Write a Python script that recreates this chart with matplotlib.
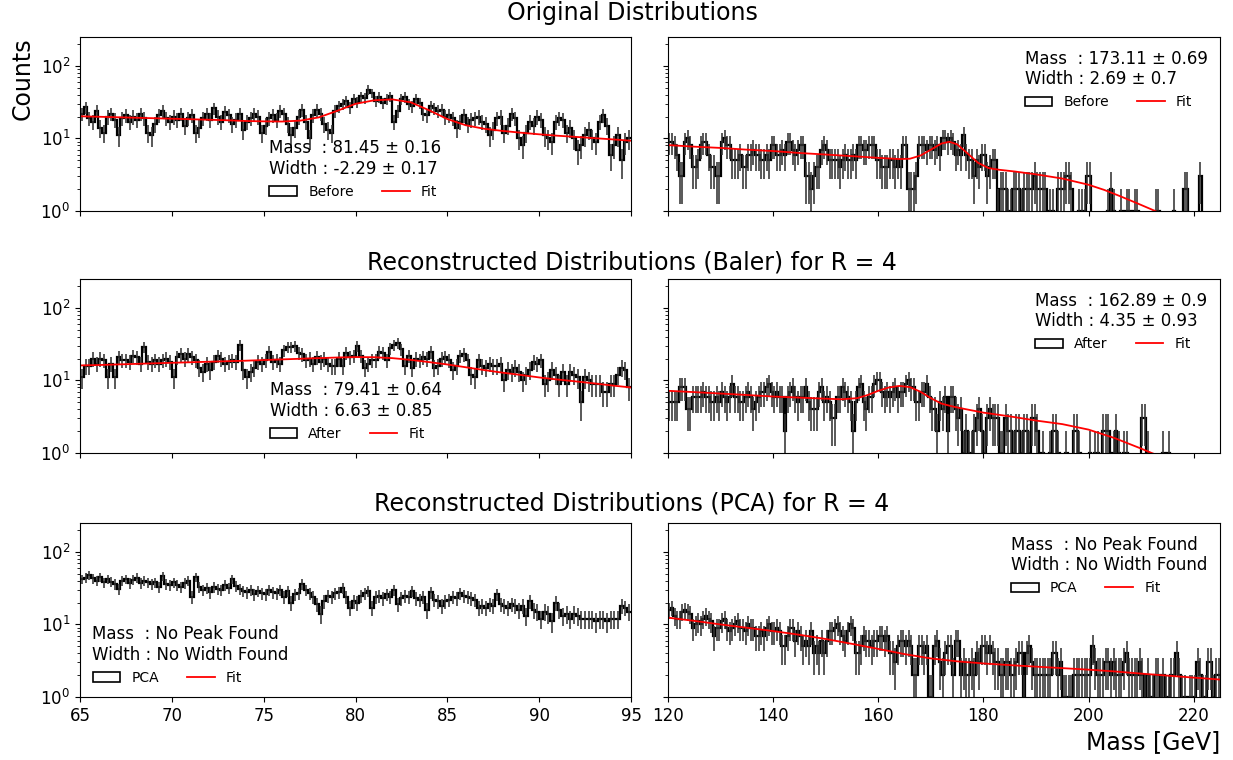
import numpy as np
import matplotlib
matplotlib.use("Agg")
import matplotlib.pyplot as plt
from matplotlib.patches import Patch
from matplotlib.lines import Line2D

# bin edges: W window 65-95 (0.2 GeV), top window 120-225 (0.5 GeV)
low_edges = np.linspace(65, 95, 151)
high_edges = np.linspace(120, 225, 211)

# ---- original ("Before") ----
orig_low = [22, 27, 19, 17, 24, 14, 12, 20, 22, 18, 11, 19, 21, 17, 20,
            18, 22, 19, 12, 11, 16, 21, 24, 19, 17, 20, 18, 22, 15, 19,
            21, 12, 14, 19, 22, 18, 26, 20, 17, 23, 21, 16, 18, 22, 13,
            17, 19, 22, 20, 12, 15, 19, 21, 18, 24, 22, 16, 11, 14, 20,
            25, 17, 10, 21, 25, 22, 16, 13, 12, 24, 28, 30, 33, 27, 35,
            32, 38, 36, 47, 42, 33, 37, 31, 35, 38, 17, 24, 35, 37, 30,
            28, 35, 31, 22, 21, 28, 26, 24, 25, 20, 21, 19, 14, 17, 21,
            16, 18, 19, 20, 17, 16, 11, 13, 19, 20, 12, 15, 22, 19, 10,
            8, 12, 17, 15, 20, 18, 11, 10, 9, 17, 19, 18, 12, 14, 10,
            7, 8, 11, 13, 10, 9, 17, 21, 15, 6, 8, 11, 5, 9, 10]
orig_high = [9, 9, 8, 6, 3, 3, 9, 10, 8, 4, 4, 5, 8, 9, 9, 6, 4, 4, 3, 3,
             9, 10, 8, 8, 5, 5, 5, 6, 4, 4, 6, 6, 7, 6, 6, 5, 5, 6, 5, 8,
             8, 6, 6, 7, 6, 9, 9, 7, 6, 7, 8, 8, 3, 3, 2, 3, 4, 4, 7, 8,
             7, 5, 5, 5, 5, 4, 5, 6, 5, 5, 6, 5, 8, 8, 7, 7, 8, 8, 8, 5,
             5, 4, 4, 4, 5, 5, 4, 5, 4, 8, 8, 2, 2, 2, 3, 8, 8, 8, 7, 8,
             8, 7, 8, 6, 10, 10, 9, 10, 9, 6, 7, 6, 11, 6, 5, 5, 3, 5, 4, 6,
             6, 3, 4, 5, 5, 1, 2, 2, 2, 1, 1, 2, 2, 2, 1, 2, 2, 2, 2, 3,
             2, 2, 2, 2, 0, 1, 1, 0, 2, 2, 2, 3, 3, 2, 0, 0, 1, 1, 1, 3,
             3, 0, 0, 0, 0, 0, 0, 1, 2, 1, 0, 0, 1, 0, 1, 1, 0, 1, 1, 0,
             0, 0, 0, 0, 0, 1, 1, 0, 0, 0, 0, 0, 1, 0, 0, 0, 2, 2, 0, 0,
             0, 0, 3, 0, 0, 0, 0, 0, 0, 0]

# ---- Baler reconstruction ("After") ----
baler_low = [11, 16, 16, 20, 17, 20, 19, 11, 17, 11, 21, 19, 19, 18, 22,
             21, 17, 29, 18, 17, 19, 17, 19, 20, 18, 11, 21, 23, 20, 23,
             21, 19, 15, 13, 17, 14, 18, 22, 20, 17, 18, 19, 18, 31, 14,
             11, 13, 15, 18, 17, 19, 25, 18, 19, 17, 26, 29, 29, 30, 24,
             23, 19, 20, 17, 21, 18, 20, 17, 16, 16, 20, 16, 24, 21, 22,
             30, 22, 15, 17, 19, 19, 25, 24, 19, 28, 31, 33, 27, 16, 22,
             15, 20, 19, 21, 20, 25, 15, 16, 20, 21, 19, 14, 16, 22, 23,
             19, 12, 11, 19, 16, 15, 17, 16, 16, 17, 10, 14, 13, 15, 13,
             10, 12, 14, 18, 17, 19, 9, 10, 14, 12, 9, 13, 9, 13, 12,
             11, 5, 11, 10, 9, 9, 9, 7, 7, 9, 9, 12, 15, 14, 8]
baler_high = [5, 5, 5, 5, 8, 8, 8, 4, 4, 6, 6, 6, 6, 7, 6, 6, 5, 5, 6, 5,
              7, 6, 5, 6, 9, 6, 6, 5, 5, 6, 7, 6, 4, 5, 6, 7, 7, 8, 9, 7,
              6, 7, 6, 6, 2, 6, 7, 8, 6, 5, 6, 6, 8, 5, 4, 4, 4, 7, 8, 5,
              6, 5, 3, 3, 6, 6, 8, 7, 6, 5, 2, 5, 8, 9, 5, 4, 6, 6, 9, 10,
              10, 7, 6, 7, 6, 7, 8, 6, 7, 7, 9, 10, 8, 8, 5, 5, 7, 7, 9, 6,
              4, 4, 2, 5, 4, 6, 2, 6, 6, 4, 3, 4, 1, 2, 1, 1, 2, 3, 4, 2,
              1, 3, 4, 3, 3, 3, 1, 1, 3, 2, 2, 1, 2, 2, 1, 2, 2, 1, 3, 3,
              2, 0, 1, 0, 0, 1, 2, 2, 1, 0, 0, 1, 0, 0, 2, 2, 1, 0, 0, 0,
              1, 0, 1, 1, 0, 2, 2, 2, 0, 1, 2, 1, 0, 1, 1, 0, 0, 0, 0, 0,
              3, 3, 1, 0, 0, 0, 0, 0, 1, 0, 1, 0, 0, 0, 0, 0, 0, 0, 0, 0,
              0, 0, 0, 0, 0, 0, 0, 0, 0, 0]

# ---- PCA reconstruction ----
pca_low = [42, 44, 48, 43, 40, 45, 38, 42, 39, 36, 31, 40, 42, 37, 41,
           44, 37, 40, 38, 36, 38, 33, 46, 36, 35, 38, 35, 33, 37, 40,
           24, 45, 33, 30, 32, 28, 33, 31, 30, 35, 32, 42, 34, 31, 29,
           28, 30, 26, 29, 27, 26, 30, 28, 27, 30, 24, 29, 20, 26, 27,
           36, 30, 27, 24, 19, 14, 21, 25, 24, 27, 28, 32, 24, 17, 21,
           20, 25, 27, 29, 17, 24, 25, 23, 26, 24, 30, 19, 23, 25, 24,
           29, 23, 22, 24, 16, 28, 22, 21, 18, 21, 22, 24, 23, 27, 25,
           24, 23, 22, 17, 18, 17, 19, 18, 26, 19, 18, 17, 19, 18, 16,
           18, 13, 21, 16, 15, 12, 15, 14, 11, 20, 16, 13, 14, 12, 14,
           13, 12, 12, 12, 12, 11, 12, 12, 11, 12, 12, 12, 18, 17, 15]
pca_high = [16, 17, 13, 12, 12, 15, 16, 15, 14, 9, 10, 11, 10, 12, 13, 12, 11, 7, 9, 9,
            11, 12, 9, 8, 9, 10, 11, 9, 9, 8, 10, 9, 9, 7, 7, 8, 7, 9, 10, 8,
            8, 9, 8, 5, 5, 7, 9, 9, 6, 8, 7, 5, 6, 5, 8, 4, 5, 4, 6, 4,
            6, 8, 8, 9, 10, 8, 7, 6, 8, 10, 9, 4, 4, 5, 7, 6, 6, 5, 6, 6,
            7, 7, 6, 7, 4, 4, 3, 5, 6, 6, 5, 6, 5, 2, 2, 5, 5, 4, 5, 1,
            1, 5, 6, 3, 2, 4, 5, 5, 2, 6, 6, 2, 3, 2, 2, 3, 2, 4, 3, 5,
            5, 4, 5, 4, 3, 3, 2, 2, 3, 3, 2, 2, 3, 4, 4, 1, 4, 5, 3, 2,
            2, 2, 2, 2, 2, 2, 4, 4, 2, 3, 1, 1, 1, 1, 2, 2, 2, 2, 2, 2,
            2, 5, 3, 2, 2, 2, 3, 3, 2, 3, 2, 2, 2, 3, 4, 2, 2, 2, 2, 3,
            2, 1, 2, 1, 1, 2, 2, 1, 2, 1, 1, 2, 2, 4, 2, 1, 1, 0, 1, 1,
            1, 3, 2, 1, 1, 3, 3, 1, 2, 2]

# ---- fit curves ----
fit_orig_low_x = [65, 66, 67, 68, 69, 70, 71, 72, 73, 74, 75, 76, 77, 78, 79, 80,
                  81, 82, 83, 84, 85, 86, 87, 88, 89, 90, 91, 92, 93, 94, 95]
fit_orig_low_y = [20.2, 19.9, 19.6, 19.3, 19.0, 18.7, 18.4, 18.1, 17.8, 17.4, 17.2,
                  17.1, 17.6, 19.5, 24.0, 30.0, 33.5, 34.5, 31.5, 24.5, 18.5, 15.2,
                  13.6, 12.7, 12.0, 11.4, 10.9, 10.5, 10.1, 9.7, 9.3]
fit_orig_high_x = [120, 125, 130, 135, 140, 145, 150, 155, 160, 164, 166, 168, 170,
                   172, 173.5, 175, 177, 179, 181, 183, 186, 190, 195, 200, 203,
                   206, 209, 212, 214]
fit_orig_high_y = [8.1, 7.7, 7.4, 7.0, 6.7, 6.3, 6.0, 5.7, 5.4, 5.2, 5.25, 5.8, 7.0,
                   8.5, 9.0, 8.3, 6.2, 4.6, 3.9, 3.7, 3.5, 3.2, 2.8, 2.3, 1.95,
                   1.6, 1.3, 1.05, 0.9]
fit_baler_low_x = fit_orig_low_x
fit_baler_low_y = [16.1, 16.3, 16.6, 16.9, 17.2, 17.5, 17.8, 18.1, 18.4, 18.7, 19.1,
                   19.5, 19.9, 20.3, 20.7, 21.0, 20.9, 20.3, 19.2, 17.9, 16.6, 15.2,
                   13.9, 12.8, 11.9, 11.0, 10.3, 9.7, 9.1, 8.5, 8.0]
fit_baler_high_x = [120, 125, 130, 135, 140, 145, 150, 153, 156, 158, 160, 162, 164,
                    166, 168, 170, 172, 174, 176, 180, 185, 190, 195, 200, 205, 210,
                    212, 214]
fit_baler_high_y = [7.2, 6.9, 6.6, 6.3, 6.0, 5.8, 5.6, 5.5, 5.7, 6.3, 7.2, 8.0, 8.4,
                    8.1, 7.0, 5.7, 4.8, 4.4, 4.1, 3.6, 3.2, 2.8, 2.5, 2.1, 1.6, 1.15,
                    1.0, 0.88]
fit_pca_high_x = [120, 125, 130, 135, 140, 145, 150, 155, 160, 165, 170, 175, 180,
                  185, 190, 195, 200, 205, 210, 215, 220, 225]
fit_pca_high_y = [12.4, 11.2, 10.0, 9.0, 8.1, 7.2, 6.3, 5.4, 4.6, 3.9, 3.4, 3.1, 2.9,
                  2.75, 2.62, 2.5, 2.38, 2.25, 2.1, 1.97, 1.85, 1.74]

row_titles = ["Original Distributions",
              "Reconstructed Distributions (Baler) for R = 4",
              "Reconstructed Distributions (PCA) for R = 4"]
row_labels = ["Before", "After", "PCA"]
fit_text = [["Mass  : 81.45 \u00b1 0.16\nWidth : -2.29 \u00b1 0.17",
             "Mass  : 173.11 \u00b1 0.69\nWidth : 2.69 \u00b1 0.7"],
            ["Mass  : 79.41 \u00b1 0.64\nWidth : 6.63 \u00b1 0.85",
             "Mass  : 162.89 \u00b1 0.9\nWidth : 4.35 \u00b1 0.93"],
            ["Mass  : No Peak Found\nWidth : No Width Found",
             "Mass  : No Peak Found\nWidth : No Width Found"]]
legend_loc = [["lower center", "upper right"],
              ["lower center", "upper right"],
              ["lower left", "upper right"]]

counts = [[orig_low, orig_high], [baler_low, baler_high], [pca_low, pca_high]]
fits = [[(fit_orig_low_x, fit_orig_low_y), (fit_orig_high_x, fit_orig_high_y)],
        [(fit_baler_low_x, fit_baler_low_y), (fit_baler_high_x, fit_baler_high_y)],
        [None, (fit_pca_high_x, fit_pca_high_y)]]

fig = plt.figure(figsize=(12.33, 7.6), dpi=100)

W = 1233.0
H = 760.0
col_x = [80 / W, 668 / W]
col_w = [551 / W, 552 / W]
row_bottom = [211, 453, 697]
ax_h = 174 / H
title_y = [13, 262, 503]

axes = []
for r in range(3):
    fig.text(632 / W, 1 - title_y[r] / H, row_titles[r], ha="center", va="center", fontsize=17)
    for c in range(2):
        ax = fig.add_axes([col_x[c], 1 - row_bottom[r] / H, col_w[c], ax_h])
        edges = low_edges if c == 0 else high_edges
        n = np.array(counts[r][c], dtype=float)
        centers = 0.5 * (edges[1:] + edges[:-1])

        # histogram outline + poisson error bars
        ax.stairs(n, edges, color="k", lw=1.6, baseline=None)
        ax.errorbar(centers, n, yerr=np.sqrt(n), fmt="none", ecolor="#333333",
                    elinewidth=1.15)
        if fits[r][c] is not None:
            ax.plot(fits[r][c][0], fits[r][c][1], color="red", lw=1.3)

        ax.set_yscale("log")
        ax.set_ylim(1, 250)
        if c == 0:
            ax.set_xlim(65, 95)
            ax.set_xticks([65, 70, 75, 80, 85, 90, 95])
        else:
            ax.set_xlim(120, 225)
            ax.set_xticks([120, 140, 160, 180, 200, 220])
            ax.tick_params(labelleft=False)
        if r < 2:
            ax.tick_params(labelbottom=False)
        ax.tick_params(labelsize=12)

        handles = [Patch(facecolor="white", edgecolor="k", lw=1.2),
                   Line2D([], [], color="red", lw=1.3)]
        ax.legend(handles, [row_labels[r], "Fit"], title=fit_text[r][c],
                  loc=legend_loc[r][c], ncol=2, frameon=False, fontsize=10,
                  title_fontsize=12, alignment="left")
        axes.append(ax)

axes[0].set_ylabel("Counts", fontsize=17, loc="top")
axes[5].set_xlabel("Mass [GeV]", fontsize=17, loc="right")

fig.savefig("out.png", dpi=100)
